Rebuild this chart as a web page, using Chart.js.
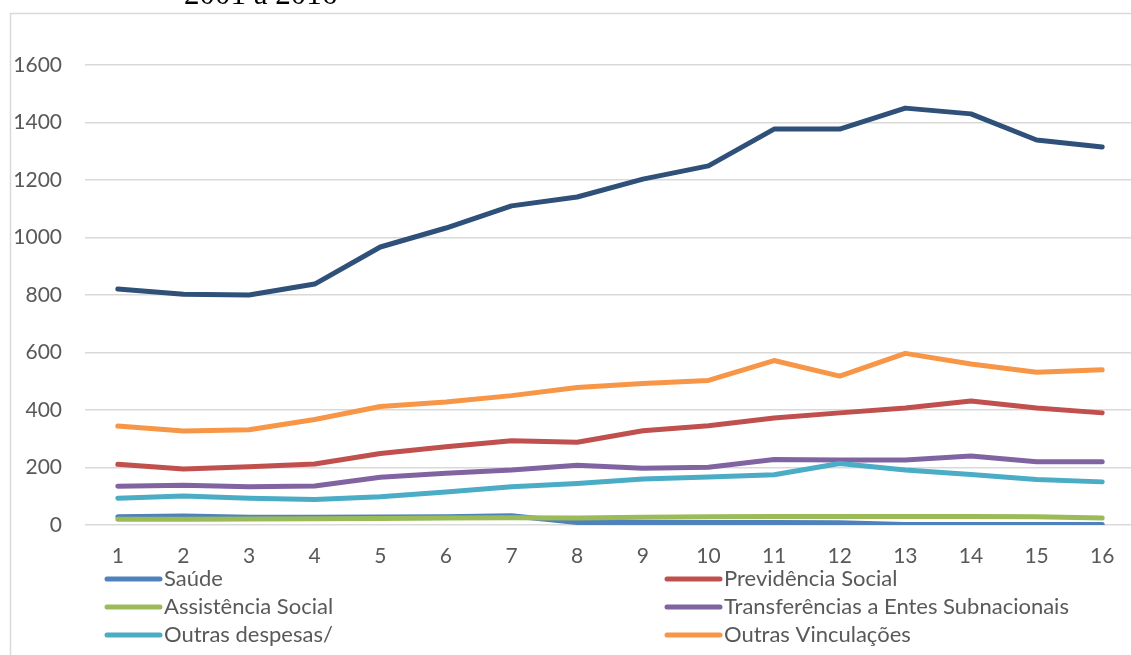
<!DOCTYPE html>
<html>
<head>
<meta charset="utf-8">
<script src="https://cdn.jsdelivr.net/npm/chart.js@4.4.1/dist/chart.umd.min.js"></script>
<style>
  html, body { margin: 0; padding: 0; background: #fff; overflow: hidden; }
  #wrap { position: relative; width: 1145px; height: 655px; }
</style>
</head>
<body>
<div id="wrap"><canvas id="c"></canvas></div>
<script>
const categories = ["1","2","3","4","5","6","7","8","9","10","11","12","13","14","15","16"];
const yTicks = [0, 200, 400, 600, 800, 1000, 1200, 1400, 1600];
const titleText = "2001 a 2016";

const labels = ["Saúde", "Previdência Social", "Assistência Social", "Transferências a Entes Subnacionais", "Outras despesas/", "Outras Vinculações", "Total"];
const colors = ["#4F81BD", "#C0504D", "#9BBB59", "#8064A2", "#4BACC6", "#F79646", "#2F5078"];

const saude = [29, 31, 27, 27, 28, 29, 32, 9, 9, 9, 9, 8, 2, 2, 2, 2];
const previdencia = [211, 195, 203, 212, 249, 272, 293, 288, 328, 345, 372, 390, 407, 431, 407, 390];
const assistencia = [20, 20, 21, 22, 23, 24, 25, 24, 27, 29, 30, 30, 30, 30, 29, 24];
const transferencias = [135, 138, 133, 136, 166, 180, 191, 208, 197, 201, 228, 226, 226, 240, 220, 220];
const outrasDespesas = [93, 101, 93, 89, 98, 115, 133, 144, 160, 167, 175, 214, 191, 176, 158, 150];
const outrasVinculacoes = [344, 327, 331, 367, 412, 428, 450, 478, 492, 503, 572, 518, 597, 560, 531, 540];
const total = [821, 803, 800, 838, 967, 1033, 1110, 1141, 1203, 1249, 1377, 1377, 1450, 1430, 1339, 1315];

const series = [saude, previdencia, assistencia, transferencias, outrasDespesas, outrasVinculacoes, total];
const legendCount = 6;

const FONT = "Lato, 'Open Sans', sans-serif";
const GRAY = "#595959";

const datasets = series.map((d, i) => ({
  label: labels[i],
  data: d,
  borderColor: colors[i],
  backgroundColor: colors[i],
  borderWidth: 5,
  pointRadius: 0,
  tension: 0,
  borderCapStyle: 'round',
  borderJoinStyle: 'round',
  order: series.length - i,
  fill: false
}));

const framePlugin = {
  id: 'frame',
  beforeDraw(chart) {
    const ctx = chart.ctx;
    ctx.save();
    ctx.fillStyle = '#fff';
    ctx.fillRect(0, 0, chart.width, chart.height);
    ctx.strokeStyle = '#D9D9D9';
    ctx.lineWidth = 1.5;
    ctx.beginPath();
    ctx.moveTo(10.5, chart.height);
    ctx.lineTo(10.5, 13.5);
    ctx.lineTo(chart.width, 13.5);
    ctx.stroke();
    ctx.fillStyle = '#000';
    ctx.font = "31px 'Liberation Serif', 'DejaVu Serif', serif";
    ctx.textBaseline = 'alphabetic';
    ctx.textAlign = 'left';
    ctx.fillText(titleText, 184, 4);
    ctx.restore();
  },
  afterDraw(chart) {
    const ctx = chart.ctx;
    ctx.save();
    ctx.font = "22px " + FONT;
    ctx.textBaseline = 'middle';
    ctx.textAlign = 'left';
    const colX = [105, 665];
    const rowY = [579, 607, 635];
    for (let i = 0; i < legendCount; i++) {
      const ds = chart.data.datasets[i];
      const x = colX[i % 2];
      const y = rowY[Math.floor(i / 2)];
      ctx.strokeStyle = ds.borderColor;
      ctx.lineWidth = 5;
      ctx.lineCap = 'round';
      ctx.beginPath();
      ctx.moveTo(x + 2, y);
      ctx.lineTo(x + 55, y);
      ctx.stroke();
      ctx.fillStyle = GRAY;
      ctx.fillText(ds.label, x + 59, y);
    }
    ctx.restore();
  }
};

new Chart(document.getElementById('c'), {
  type: 'line',
  data: { labels: categories, datasets },
  options: {
    responsive: true,
    maintainAspectRatio: false,
    animation: false,
    layout: { padding: { top: 65, left: 0, right: 10, bottom: 85 } },
    plugins: { legend: { display: false }, title: { display: false }, tooltip: { enabled: false } },
    scales: {
      x: {
        offset: true,
        grid: { display: false, drawTicks: false },
        border: { display: false },
        ticks: { color: GRAY, font: { family: FONT, size: 21 }, padding: 19, maxRotation: 0, autoSkip: false },
        afterFit(s) { s.height = 45; }
      },
      y: {
        min: 0, max: 1600,
        afterBuildTicks(s) { s.ticks = yTicks.map(v => ({ value: v })); },
        grid: { color: '#D9D9D9', lineWidth: 1.5, drawTicks: false },
        border: { display: false },
        ticks: { color: GRAY, font: { family: FONT, size: 21 }, padding: 23, callback: v => String(v) },
        afterFit(s) { s.width = 85; }
      }
    }
  },
  plugins: [framePlugin]
});
</script>
</body>
</html>
